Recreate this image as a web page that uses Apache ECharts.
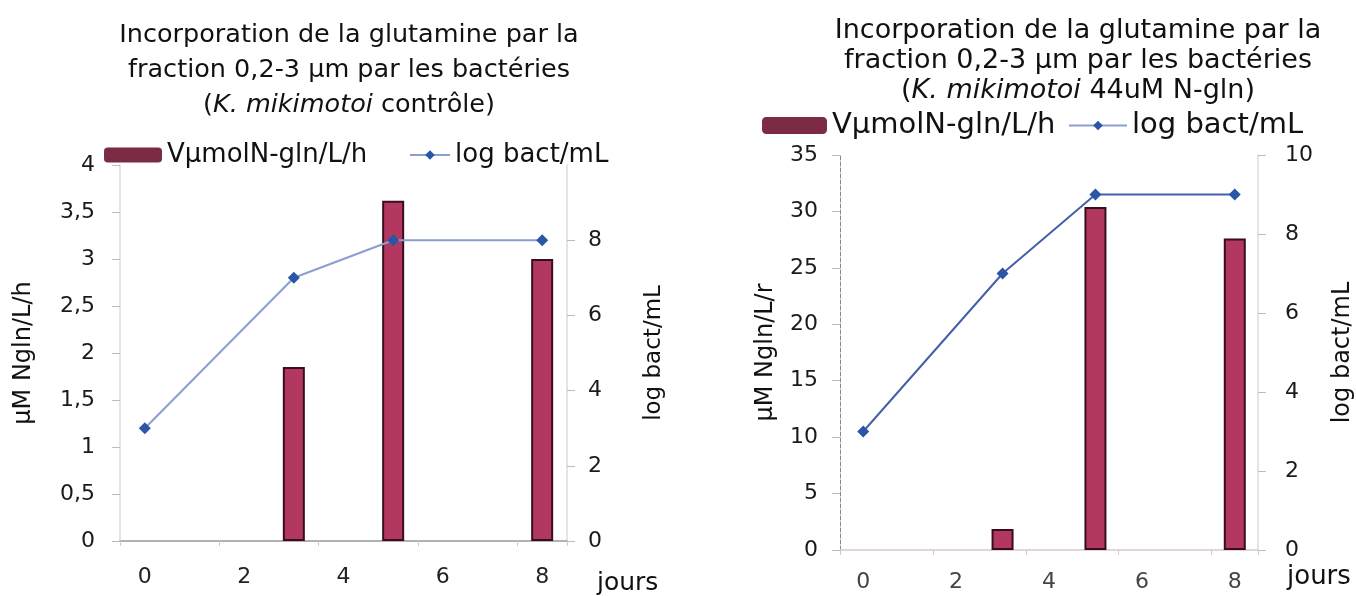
<!DOCTYPE html>
<html>
<head>
<meta charset="utf-8">
<script src="https://cdn.jsdelivr.net/npm/echarts@6/dist/echarts.min.js"></script>
<style>
html,body{margin:0;padding:0;background:#fff;}
#c{width:1356px;height:596px;}
</style>
</head>
<body>
<div id="c"></div>
<script>
// ---- data ----
const days = ['0','1','2','3','4','5','6','7','8'];
const ctrlRate = [null, null, null, 1.85, null, 3.62, null, null, 3.0];
const ctrlLog  = [3, null, null, 7, null, 8, null, null, 8];
const glnRate  = [null, null, null, 1.85, null, 30.4, null, null, 27.6];
const glnLog   = [3, null, null, 7, null, 9, null, null, 9];
const barName = 'VµmolN-gln/L/h';
const lineName = 'log bact/mL';
const xName = 'jours';
const leftYNameA = 'µM Ngln/L/h';
const leftYNameB = 'µM Ngln/L/r';
const rightYName = 'log bact/mL';

const FONT = "'DejaVu Sans', 'Liberation Sans', Arial, sans-serif";
const comma = v => String(v).replace('.', ',');

const barStyle = {color:'#b2385f', borderColor:'#3a0d1e', borderWidth:2};

function xAxis(gi, fs, nfs, gap, pad, margin, lineColor, labelColor){
  return {
    type:'category', gridIndex:gi, data:days, boundaryGap:true,
    axisLine:{lineStyle:{color:lineColor, width:1.5}},
    axisTick:{show:true, length:5, lineStyle:{color:'#ccc'}},
    axisLabel:{interval:1, margin:margin, fontSize:fs, color:labelColor, fontFamily:FONT},
    name:xName, nameLocation:'end', nameGap:gap,
    nameTextStyle:{fontSize:nfs, color:'#111', fontFamily:FONT, align:'left', verticalAlign:'top', padding:[pad,0,0,0]}
  };
}
function yAxis(gi, pos, max, interval, name, fs, nfs, nameGap, margin, showMax, lineStyle){
  return {
    type:'value', gridIndex:gi, position:pos, min:0, max:max, interval:interval,
    axisLine:{show:true, lineStyle:lineStyle},
    axisTick:{show:true, length:8, lineStyle:{color:'#bbb'}},
    splitLine:{show:false},
    axisLabel:{fontSize:fs, color:'#1a1a1a', fontFamily:FONT, margin:margin, showMaxLabel:showMax, formatter:comma},
    name:name, nameLocation:'middle', nameGap:nameGap, nameRotate:90,
    nameTextStyle:{fontSize:nfs, color:'#111', fontFamily:FONT}
  };
}

const option = {
  backgroundColor:'#fff',
  animation:false,
  title:[
    {text:'Incorporation de la glutamine par la\nfraction 0,2-3 µm par les bactéries\n({i|K. mikimotoi} contrôle)',
     left:344, textAlign:'center', top:13,
     textStyle:{fontSize:25.5, fontWeight:'normal', color:'#111', fontFamily:FONT, lineHeight:35,
       rich:{i:{fontStyle:'italic', fontSize:25.5, color:'#111', fontFamily:FONT, lineHeight:35}}}},
    {text:'Incorporation de la glutamine par la\nfraction 0,2-3 µm par les bactéries\n({i|K. mikimotoi} 44uM N-gln)',
     left:1073, textAlign:'center', top:11,
     textStyle:{fontSize:27, fontWeight:'normal', color:'#111', fontFamily:FONT, lineHeight:30,
       rich:{i:{fontStyle:'italic', fontSize:27, color:'#111', fontFamily:FONT, lineHeight:30}}}}
  ],
  legend:[
    {data:[{name:barName, itemStyle:{color:'#7b2c44', borderWidth:0}}], left:99, top:137, itemWidth:58, itemHeight:15,
     textStyle:{fontSize:26, color:'#111', fontFamily:FONT}},
    {data:[{name:lineName}], left:404, top:137, itemWidth:40, itemHeight:12,
     textStyle:{fontSize:26, color:'#111', fontFamily:FONT}},
    {data:[{name:barName, itemStyle:{color:'#7b2c44', borderWidth:0}}], left:757, top:106, itemWidth:65, itemHeight:17,
     textStyle:{fontSize:29, color:'#111', fontFamily:FONT}},
    {data:[{name:lineName}], left:1063, top:106, itemWidth:58, itemHeight:12,
     textStyle:{fontSize:29, color:'#111', fontFamily:FONT}}
  ],
  grid:[
    {left:120, right:789, top:165, bottom:55},
    {left:840, right:98, top:155, bottom:46}
  ],
  xAxis:[
    xAxis(0, 22, 25, 30, 30, 25, '#999', '#222'),
    xAxis(1, 22, 26, 29, 14, 21, '#d8c8cc', '#444')
  ],
  yAxis:[
    yAxis(0, 'left', 4, 0.5, leftYNameA, 22, 24, 84, 25, true, {color:'#ddd', width:1.5}),
    yAxis(0, 'right', 10, 2, rightYName, 22, 23, 76, 21, false, {color:'#ddd', width:1.5}),
    yAxis(1, 'left', 35, 5, leftYNameB, 22, 24, 62, 22, true, {color:'#888', width:1, type:'dashed'}),
    yAxis(1, 'right', 10, 2, rightYName, 22, 24, 73, 27, true, {color:'#ddd', width:1.5})
  ],
  series:[
    {name:barName, type:'bar', xAxisIndex:0, yAxisIndex:0, data:ctrlRate, barWidth:22, itemStyle:barStyle},
    {name:lineName, type:'line', xAxisIndex:0, yAxisIndex:1, data:ctrlLog, connectNulls:true,
     symbol:'diamond', symbolSize:12, lineStyle:{color:'#8a9fcf', width:2}, itemStyle:{color:'#2b55a6'}},
    {name:barName, type:'bar', xAxisIndex:1, yAxisIndex:2, data:glnRate, barWidth:22, itemStyle:barStyle},
    {name:lineName, type:'line', xAxisIndex:1, yAxisIndex:3, data:glnLog, connectNulls:true,
     symbol:'diamond', symbolSize:12, lineStyle:{color:'#4560aa', width:2}, itemStyle:{color:'#2b55a6'}}
  ]
};
const chart = echarts.init(document.getElementById('c'));
chart.setOption(option);
</script>
</body>
</html>
